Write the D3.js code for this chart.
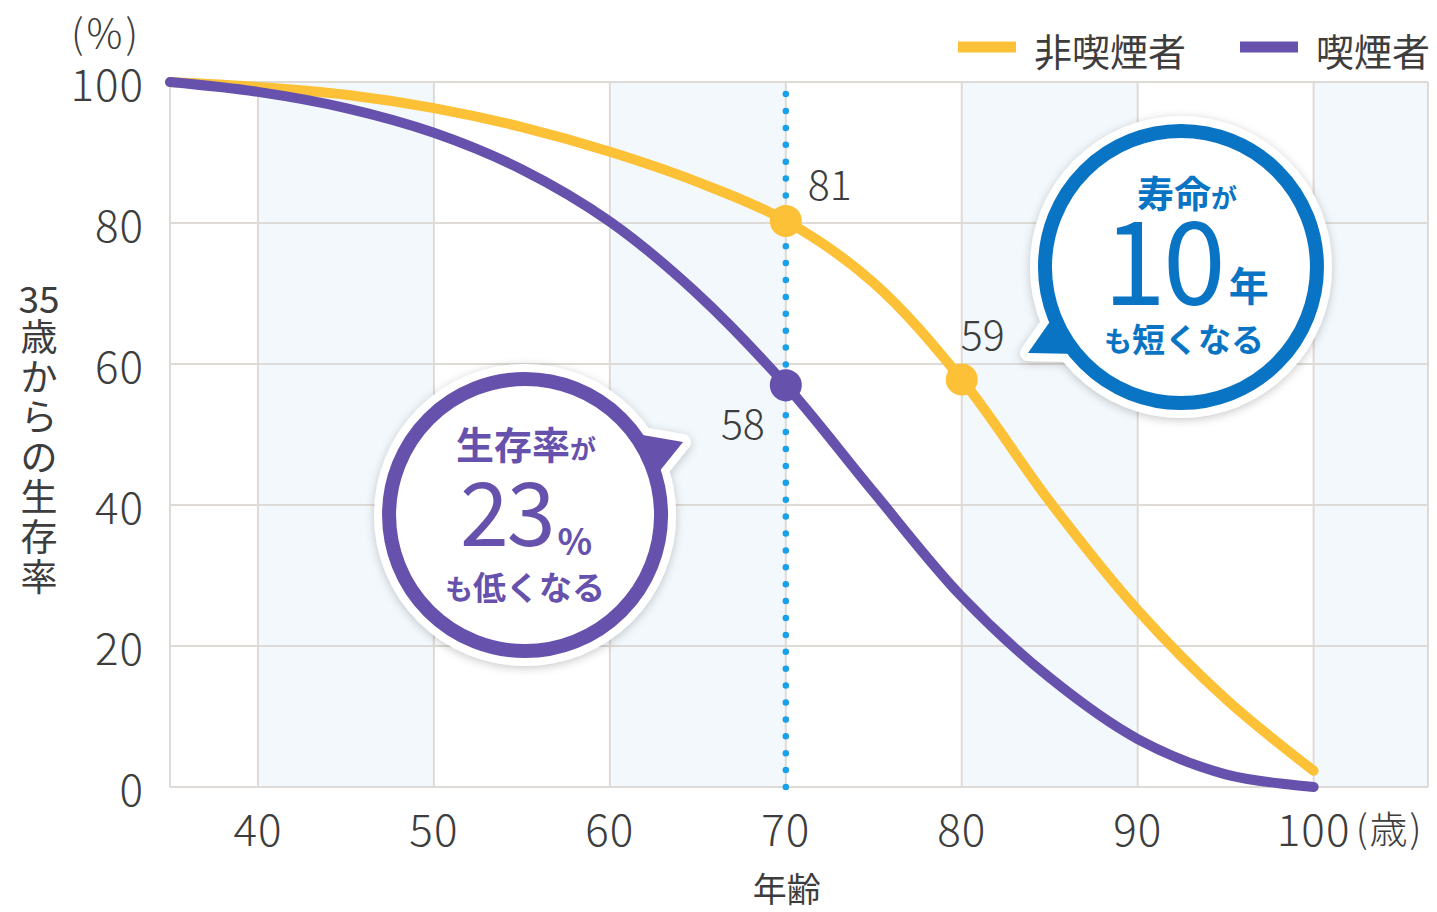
<!DOCTYPE html>
<html><head><meta charset="utf-8">
<script src="https://cdn.jsdelivr.net/npm/d3@7"></script>
<style>
html,body{margin:0;padding:0;background:#fff;}
svg{display:block;font-family:"Noto Sans CJK JP","Noto Sans",sans-serif;}
</style></head>
<body>
<svg id="chart" width="1437" height="912"></svg>
<script>
// ---- data ----
const ages = [35,40,45,50,55,60,65,70,75,80,85,90,95,100];
const nonSmoker = [100,99.3,98.2,96.3,93.6,90.1,85.8,80.3,71.5,57.8,40.5,25.1,12.5,2.3];
const smoker    = [100,98.6,96.3,92.8,87.6,80.2,69.9,57.0,41.8,27.0,15.5,6.8,1.8,0];
const seriesNames = ["非喫煙者","喫煙者"];
const xTicks = [40,50,60,70,80,90,100];
const yTicks = [0,20,40,60,80,100];
const bandStarts = [40,60,80,100];
const markerAge = 70;
// highlighted points: age, series index, label
const highlightAges = [70,80,70];
const highlightSeries = [0,0,1];
const highlightLabels = ["81","59","58"];
const yTitleParts = ["35","歳","か","ら","の","生","存","率"];

// ---- styles ----
const C_NON = "#fcc136", C_SMK = "#6651ac", C_BLUE = "#0a74c4", C_DOT = "#1aa0e8";
const C_GRID = "#dedbd7", C_BAND = "#f2f8fc", C_TEXT = "#3d3d3d";

const svg = d3.select("#chart");
const xMax = 106.5;
const x = d3.scaleLinear().domain([35, xMax]).range([170, 1428]);
const y = d3.scaleLinear().domain([0, 100]).range([787, 82]);

// shadow filter
const defs = svg.append("defs");
const f = defs.append("filter").attr("id","sh").attr("x","-30%").attr("y","-30%").attr("width","160%").attr("height","160%");
f.append("feDropShadow").attr("dx",0).attr("dy",2).attr("stdDeviation",5).attr("flood-color","#000").attr("flood-opacity",0.22);

// bands
svg.append("g").selectAll("rect").data(bandStarts).join("rect")
  .attr("x", d => x(d)).attr("y", y(100))
  .attr("width", d => x(Math.min(d+10, xMax)) - x(d)).attr("height", y(0)-y(100))
  .attr("fill", C_BAND);

// grid
const grid = svg.append("g").attr("stroke", C_GRID).attr("stroke-width", 2);
grid.selectAll("line.h").data(yTicks).join("line").attr("class","h")
  .attr("x1", x(35)).attr("x2", x(xMax)).attr("y1", d=>y(d)).attr("y2", d=>y(d));
grid.selectAll("line.v").data([35, ...xTicks, xMax]).join("line").attr("class","v")
  .attr("x1", d=>x(d)).attr("x2", d=>x(d)).attr("y1", y(0)).attr("y2", y(100));

// y axis tick labels
svg.append("g").selectAll("text").data(yTicks).join("text")
  .attr("x", 144).attr("y", d=>y(d)).attr("text-anchor","end").attr("dominant-baseline","central")
  .attr("font-size", 44).attr("font-weight",300).attr("letter-spacing",1).attr("fill", C_TEXT).text(d=>d);
// x axis tick labels
svg.append("g").selectAll("text").data(xTicks).join("text")
  .attr("x", d=>x(d)).attr("y", 827).attr("text-anchor","middle").attr("dominant-baseline","central")
  .attr("font-size", 44).attr("font-weight",300).attr("letter-spacing",1).attr("fill", C_TEXT).text(d=>d);
svg.append("text").attr("x", x(100)+42).attr("y", 826).attr("dominant-baseline","central")
  .attr("font-size", 38).attr("font-weight",300).attr("letter-spacing",2).attr("fill", C_TEXT).text("(歳)");
svg.append("text").attr("x", 106).attr("y", 31).attr("text-anchor","middle").attr("dominant-baseline","central")
  .attr("font-size", 40).attr("font-weight",300).attr("letter-spacing",3).attr("fill", C_TEXT).text("(%)");
svg.append("text").attr("x", x(markerAge)+1).attr("y", 887).attr("text-anchor","middle").attr("dominant-baseline","central")
  .attr("font-size", 34).attr("fill", C_TEXT).text("年齢");
// y title (vertical)
svg.append("g").selectAll("text").data(yTitleParts).join("text")
  .attr("x", 39).attr("y", (d,i)=> i===0 ? 297 : 335 + (i-1)*40)
  .attr("text-anchor","middle").attr("dominant-baseline","central")
  .attr("font-size", 37).attr("fill", C_TEXT).text(d=>d);

// dotted marker line
svg.append("line").attr("x1", x(markerAge)).attr("x2", x(markerAge)).attr("y1", y(0)).attr("y2", y(100))
  .attr("stroke", C_DOT).attr("stroke-width", 6.5).attr("stroke-linecap","round").attr("stroke-dasharray","0 16.9");

// lines
const line = d3.line().x(d=>x(d[0])).y(d=>y(d[1])).curve(d3.curveCatmullRom.alpha(0.5));
const allSeries = [nonSmoker, smoker];
const colors = [C_NON, C_SMK];
allSeries.forEach((s,i)=>{
  svg.append("path").datum(ages.map((a,j)=>[a,s[j]])).attr("d", line)
    .attr("fill","none").attr("stroke", colors[i]).attr("stroke-width", 10)
    .attr("stroke-linecap","round").attr("stroke-linejoin","round");
});

// highlight dots + labels
const labelOffsets = [[22, -21, "start"], [21, -30, "middle"], [-21, 54, "end"]];
highlightAges.forEach((a,k)=>{
  const s = highlightSeries[k];
  const v = allSeries[s][ages.indexOf(a)];
  svg.append("circle").attr("cx", x(a)).attr("cy", y(v)).attr("r", 16).attr("fill", colors[s]);
  svg.append("text").attr("x", x(a)+labelOffsets[k][0]).attr("y", y(v)+labelOffsets[k][1])
    .attr("text-anchor", labelOffsets[k][2]).attr("font-size", 41).attr("font-weight",300).attr("fill", C_TEXT).text(highlightLabels[k]);
});

// legend
const legX = [958, 1240];
seriesNames.forEach((n,i)=>{
  svg.append("line").attr("x1", legX[i]).attr("x2", legX[i]+58).attr("y1", 47).attr("y2", 47)
    .attr("stroke", colors[i]).attr("stroke-width", 11);
  svg.append("text").attr("x", legX[i]+76).attr("y", 49).attr("dominant-baseline","central")
    .attr("font-size", 38).attr("fill", C_TEXT).text(n);
});

// bubbles
function bubble(cx, cy, color, tail){
  const g = svg.append("g");
  const tailPts = tail.map(p=>[cx+p[0], cy+p[1]]);
  const sh = g.append("g").attr("filter","url(#sh)");
  sh.append("circle").attr("cx",cx).attr("cy",cy).attr("r",151).attr("fill","#fff");
  sh.append("path").attr("d", d3.line()(tailPts)+"Z").attr("fill","#fff").attr("stroke","#fff").attr("stroke-width",16).attr("stroke-linejoin","round");
  g.append("path").attr("d", d3.line()(tailPts)+"Z").attr("fill", color);
  g.append("circle").attr("cx",cx).attr("cy",cy).attr("r",136).attr("fill","#fff").attr("stroke",color).attr("stroke-width",14);
  return g;
}
// blue bubble
const bc = [x(92.46), y(73.76)];
const gb = bubble(bc[0], bc[1], C_BLUE, [[-125,46],[-153,86],[-103,87]]);
let t = gb.append("text").attr("x", bc[0]+6).attr("y", 208).attr("text-anchor","middle").attr("fill",C_BLUE).attr("font-weight",700);
t.append("tspan").attr("font-size",37).text("寿命");
t.append("tspan").attr("font-size",26).text("が");
t = gb.append("text").attr("x", bc[0]+5).attr("y", 305).attr("text-anchor","middle").attr("fill",C_BLUE);
t.append("tspan").attr("font-size",113).attr("font-weight",400).attr("letter-spacing",-3).text("10");
t.append("tspan").attr("font-size",40).attr("font-weight",700).attr("dx",6).attr("dy",-4).text("年");
t = gb.append("text").attr("x", bc[0]+3).attr("y", 352).attr("text-anchor","middle").attr("fill",C_BLUE).attr("font-weight",700);
t.append("tspan").attr("font-size",28).text("も");
t.append("tspan").attr("font-size",33).text("短くなる");

// purple bubble
const pc = [x(55.18), y(38.58)];
const gp = bubble(pc[0], pc[1], C_SMK, [[100,-83],[158,-73],[125,-32]]);
t = gp.append("text").attr("x", pc[0]+1).attr("y", 459).attr("text-anchor","middle").attr("fill",C_SMK).attr("font-weight",700);
t.append("tspan").attr("font-size",38).text("生存率");
t.append("tspan").attr("font-size",26).text("が");
t = gp.append("text").attr("x", pc[0]+1).attr("y", 546).attr("text-anchor","middle").attr("fill",C_SMK);
t.append("tspan").attr("font-size",88).attr("font-weight",400).attr("letter-spacing",-2).text("23");
t.append("tspan").attr("font-size",36).attr("font-weight",700).attr("dx",4).attr("dy",9).text("%");
t = gp.append("text").attr("x", pc[0]).attr("y", 600).attr("text-anchor","middle").attr("fill",C_SMK).attr("font-weight",700);
t.append("tspan").attr("font-size",28).text("も");
t.append("tspan").attr("font-size",33).text("低くなる");
</script>
</body></html>
